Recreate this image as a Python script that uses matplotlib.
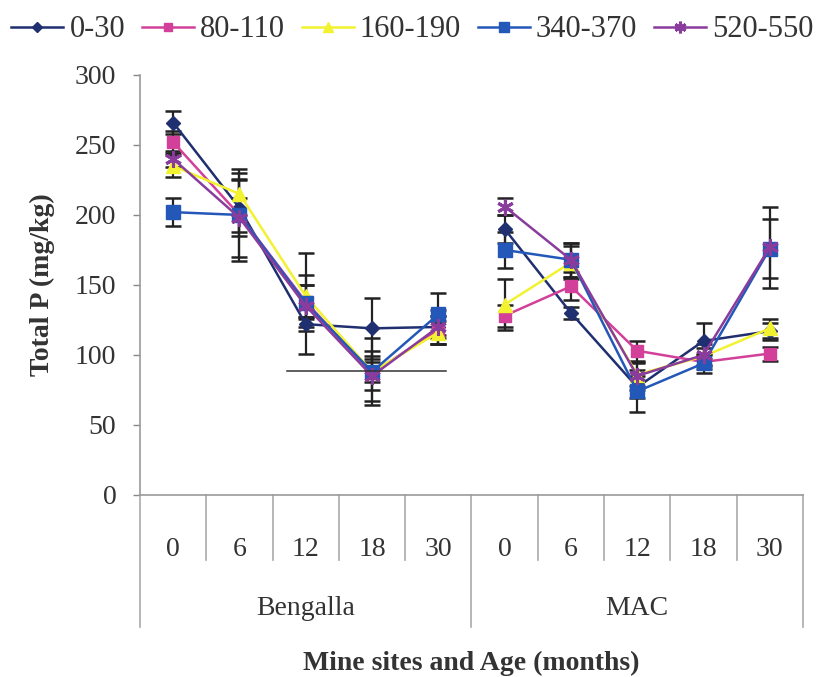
import matplotlib
matplotlib.use("Agg")
import matplotlib.pyplot as plt
import matplotlib.transforms as mtransforms
import numpy as np

plt.rcParams["font.family"] = ["Liberation Serif", "DejaVu Serif"]

# Sampling ages (months) at each mine site
sites = ["Bengalla", "MAC"]
ages = ["0", "6", "12", "18", "30"]

# Depth classes (mm)
depths = ["0-30", "80-110", "160-190", "340-370", "520-550"]

# Total P (mg/kg): Bengalla 0..30 months, then MAC 0..30 months
p_0_30 = [266, 205, 122, 119, 120, 190, 130, 77, 110, 117]
p_80_110 = [252, 200, 138, 87, 118, 128, 149, 103, 95, 101]
p_160_190 = [235, 215, 142, 88, 116, 136, 166, 86, 99, 119]
p_340_370 = [202, 200, 137, 88, 129, 175, 168, 74, 94, 176]
p_520_550 = [240, 198, 135, 85, 120, 206, 168, 85, 100, 177]

# Standard errors
se_0_30 = [8, 20, 5, 22, 8, 10, 4, 8, 13, 6]
se_80_110 = [8, 12, 12, 12, 10, 8, 10, 7, 5, 5]
se_160_190 = [8, 15, 15, 7, 8, 18, 12, 8, 6, 7]
se_340_370 = [10, 33, 36, 24, 15, 13, 12, 15, 7, 21]
se_520_550 = [6, 28, 15, 18, 12, 6, 12, 10, 8, 29]

values = [p_0_30, p_80_110, p_160_190, p_340_370, p_520_550]
errors = [se_0_30, se_80_110, se_160_190, se_340_370, se_520_550]
colors = ["#1f2f70", "#d2409a", "#f2f230", "#2458b8", "#8a3c9c"]
markers = ["D", "s", "^", "s", (6, 2, 0)]
msizes = [7, 9, 10, 10, 12]

fig = plt.figure(figsize=(8.25, 6.77), dpi=100)
ax = fig.add_axes([0.1697, 0.2689, 0.8036, 0.6204])

n_per_site = len(ages)
for vals, errs, col, mk, ms, lab in zip(values, errors, colors, markers, msizes, depths):
    for s in range(len(sites)):
        idx = np.arange(s * n_per_site, (s + 1) * n_per_site)
        v = np.array(vals)[idx]
        e = np.array(errs)[idx]
        ax.errorbar(idx, v, yerr=e, fmt="none", ecolor="#222222",
                    elinewidth=1.6, capsize=5.5, capthick=1.8, zorder=2)
        ax.plot(idx, v, color=col, lw=1.8, marker=mk, markersize=ms,
                markerfacecolor=col, markeredgecolor=col,
                markeredgewidth=2.2 if isinstance(mk, tuple) else 1,
                label=lab if s == 0 else None, zorder=3)

# thin rule left inside the Bengalla panel
rule_x = [1.72, 4.12]
rule_y = [88.5, 88.5]
ax.plot(rule_x, rule_y, color="#333333", lw=1.1, zorder=4)

ax.set_xlim(-0.5, 9.5)
ax.set_ylim(0, 300)
ax.set_yticks(np.arange(0, 301, 50))
ax.tick_params(axis="y", direction="out", length=5, width=1, color="#888888",
               labelsize=20, pad=12, labelcolor="#333333")
ax.set_xticks(np.arange(len(sites) * n_per_site))
ax.set_xticklabels(ages * len(sites))
ax.tick_params(axis="x", length=0, labelsize=20, pad=30, labelcolor="#333333")

for side in ["top", "right"]:
    ax.spines[side].set_visible(False)
for side in ["left", "bottom"]:
    ax.spines[side].set_color("#999999")
    ax.spines[side].set_linewidth(1.2)

# category separators below the axis
trans = mtransforms.blended_transform_factory(ax.transData, ax.transAxes)
for i in range(len(sites) * n_per_site + 1):
    xb = i - 0.5
    if i % n_per_site == 0:
        y_end = -0.315
    else:
        y_end = -0.155
    ax.plot([xb, xb], [0, y_end], transform=trans, color="#aaaaaa",
            lw=1.2, clip_on=False)

for s, name in enumerate(sites):
    xc = s * n_per_site + (n_per_site - 1) / 2
    ax.text(xc, -0.27, name, transform=trans, ha="center", va="center",
            fontsize=20, color="#333333")

ax.text(0.5, -0.40, "Mine sites and Age (months)", transform=ax.transAxes,
        ha="center", va="center", fontsize=20, fontweight="bold", color="#333333")
ax.set_ylabel("Total P (mg/kg)", fontsize=20, fontweight="bold", color="#333333",
              labelpad=14)

fig.legend(loc="center", bbox_to_anchor=(0.5, 0.956), ncol=5, frameon=False,
           fontsize=22, handlelength=1.7, handletextpad=0.2, columnspacing=0.55,
           borderaxespad=0, labelcolor="#333333", markerscale=0.7)

fig.savefig("out.png", dpi=100)
